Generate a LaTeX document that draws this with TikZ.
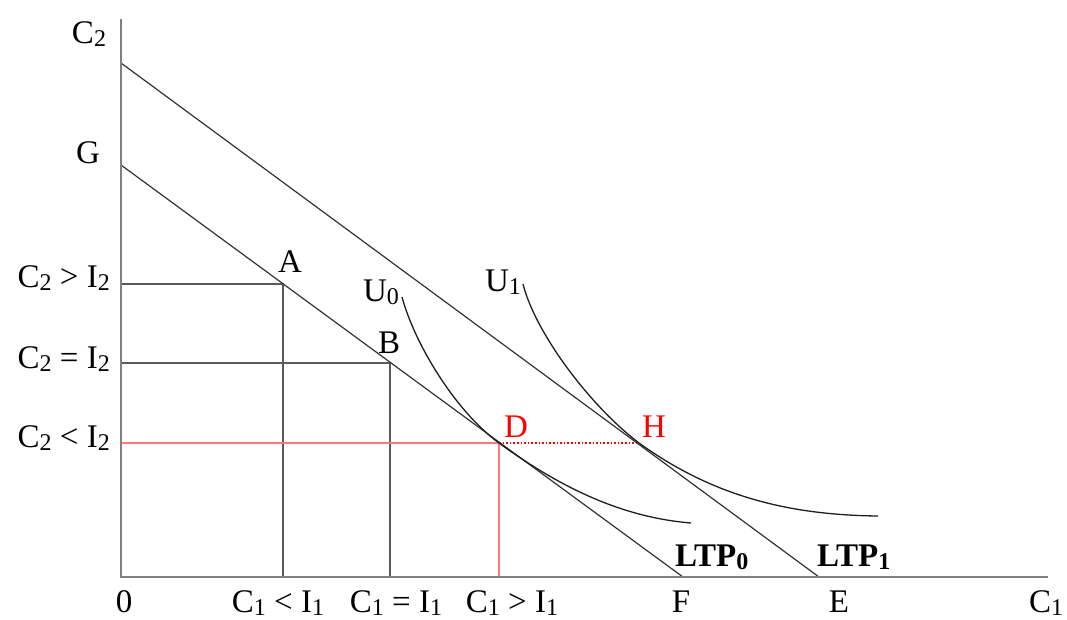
\documentclass[tikz,border=0pt]{standalone}
\usepackage{fontspec}
\setmainfont{Liberation Serif}
\newcommand\lowsub[1]{\raisebox{-3pt}{\fontsize{24}{24}\selectfont #1}}
\begin{document}
\begin{tikzpicture}[x=1pt,y=-1pt,
  font=\fontsize{33}{38}\selectfont,
  axisline/.style={draw={rgb,255:red,128;green,128;blue,128}, line width=2.2pt},
  guide/.style={draw={rgb,255:red,90;green,90;blue,90}, line width=2pt},
  budget/.style={draw={rgb,255:red,50;green,50;blue,50}, line width=1.2pt},
  indiff/.style={draw={rgb,255:red,30;green,30;blue,30}, line width=1.3pt},
  redsolid/.style={draw={rgb,255:red,255;green,120;blue,120}, line width=2pt},
  reddot/.style={draw=red, line width=1.6pt, dotted},
  lbl/.style={inner sep=0pt, anchor=base},
  redlbl/.style={lbl, text=red}]
\useasboundingbox (0,0) rectangle (1067,619);

% key points
\coordinate (O) at (121,577);
\coordinate (Ytop) at (121,19);
\coordinate (Xend) at (1048,577);
\coordinate (T1) at (121,63);
\coordinate (E) at (819,577);
\coordinate (T0) at (121,165);
\coordinate (F) at (683,577);
\coordinate (A) at (283,284);
\coordinate (Ay) at (121,284);
\coordinate (Ax) at (283,577);
\coordinate (B) at (390,363);
\coordinate (By) at (121,363);
\coordinate (Bx) at (390,577);
\coordinate (D) at (499,443);
\coordinate (Dy) at (121,443);
\coordinate (Dx) at (499,577);
\coordinate (H) at (639,443);
\coordinate (U0s) at (402,297);
\coordinate (U0e) at (691,523);
\coordinate (U1s) at (523,284);
\coordinate (U1e) at (878,516);

% guide lines
\draw[guide] (Ay) -- (A) -- (Ax);
\draw[guide] (By) -- (B) -- (Bx);
\draw[redsolid] (Dy) -- (D) -- (Dx);
\draw[reddot] (D) -- (H);

% budget lines
\draw[budget] (T1) -- (E);
\draw[budget] (T0) -- (F);

% indifference curves
\draw[indiff] (U0s) .. controls (414,342) and (454,410) .. (D)
  .. controls (569,494) and (630,518) .. (U0e);
\draw[indiff] (U1s) .. controls (535,332) and (589,405) .. (H)
  .. controls (714,497) and (790,515) .. (U1e);

% axes
\draw[axisline] (Ytop) -- (O) -- (Xend);

% labels
\node[lbl] (lC2) at (89,43) {C\lowsub{2}};
\node[lbl] (lG) at (88,163) {G};
\node[lbl, anchor=base east] (lC2g) at (110,287) {C\lowsub{2} > I\lowsub{2}};
\node[lbl, anchor=base east] (lC2e) at (110,368) {C\lowsub{2} = I\lowsub{2}};
\node[lbl, anchor=base east] (lC2l) at (110,447) {C\lowsub{2} < I\lowsub{2}};
\node[lbl] (lA) at (290,272) {A};
\node[lbl] (lB) at (389,353) {B};
\node[lbl] (lU0) at (381,301) {U\lowsub{0}};
\node[lbl] (lU1) at (503,291) {U\lowsub{1}};
\node[redlbl] (lD) at (516,437) {D};
\node[redlbl] (lH) at (654,437) {H};
\node[lbl, anchor=base west] (lLTP0) at (675,566) {\textbf{LTP\lowsub{0}}};
\node[lbl, anchor=base west] (lLTP1) at (817,566) {\textbf{LTP\lowsub{1}}};
\node[lbl] (l0) at (124,612) {0};
\node[lbl] (lC1l) at (278,612) {C\lowsub{1} < I\lowsub{1}};
\node[lbl] (lC1e) at (396,612) {C\lowsub{1} = I\lowsub{1}};
\node[lbl] (lC1g) at (512,612) {C\lowsub{1} > I\lowsub{1}};
\node[lbl] (lF) at (681,612) {F};
\node[lbl] (lE) at (839,612) {E};
\node[lbl] (lC1) at (1046,612) {C\lowsub{1}};
\end{tikzpicture}
\end{document}
